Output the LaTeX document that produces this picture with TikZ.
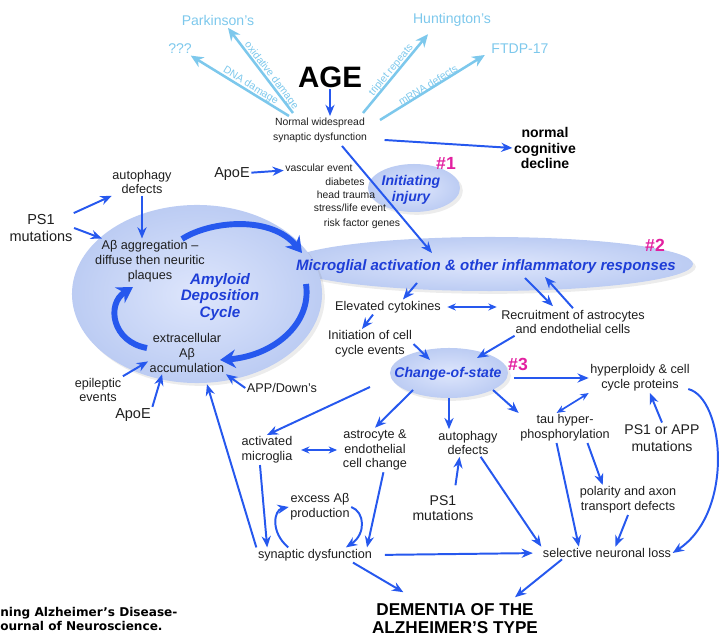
\documentclass[tikz,border=0pt]{standalone}
\usepackage{fontspec}
\setmainfont{Liberation Sans}
\newfontfamily\capfont{DejaVu Sans}
\usetikzlibrary{arrows.meta,shapes.geometric,shadows,calc}

\definecolor{arrowblue}{RGB}{38,88,238}
\definecolor{textblue}{RGB}{30,62,215}
\definecolor{skyblue}{RGB}{125,200,236}
\definecolor{hashpink}{RGB}{226,32,160}
\definecolor{blobin}{RGB}{222,230,252}
\definecolor{blobout}{RGB}{188,204,243}
\definecolor{inkgray}{RGB}{30,30,30}

\newcommand{\fs}[2]{\fontsize{#1}{#2}\selectfont}

\begin{document}
\begin{tikzpicture}[x=0.025cm,y=-0.025cm,
  lbl/.style={font=\fs{9}{10.6}, text=inkgray, align=center, inner sep=1pt},
  tiny/.style={font=\fs{7.4}{10.6}, text=inkgray, align=center, inner sep=1pt},
  big/.style={font=\fs{10.3}{11.5}, text=inkgray, align=center, inner sep=1pt},
  sky/.style={font=\fs{10}{12}, text=skyblue, inner sep=1pt},
  hash/.style={font=\bfseries\fs{12.5}{14}, text=hashpink, inner sep=0pt},
  stage/.style={font=\bfseries\itshape\fs{10.7}{12}, text=textblue, align=center, inner sep=1pt},
  blob/.style={ellipse, draw=none, inner sep=0pt, shading=radial, inner color=blobin, outer color=blobout,
    drop shadow={shadow xshift=2pt, shadow yshift=-2pt, opacity=0.12, fill=black!60}},
  arr/.style={draw=arrowblue, line width=1.4pt, -{Stealth[length=8pt,width=6.5pt]}},
  twoway/.style={draw=arrowblue, line width=1.2pt, {Stealth[length=6pt,width=5pt]}-{Stealth[length=6pt,width=5pt]}},
  fat/.style={draw=arrowblue, line width=4.2pt, -{Stealth[length=11pt,width=13pt]}},
  skyarr/.style={draw=skyblue, line width=1.8pt, -{Stealth[length=9pt,width=8pt]}},
  skylbl/.style={font=\fs{7.4}{9}, text=skyblue, sloped, above=-1pt, inner sep=0.5pt},
]
\useasboundingbox (0,0) rectangle (719,636);

% ellipses
\node[blob, minimum width=10.15cm, minimum height=1.35cm] (micro) at (490,264) {};
\node[blob, minimum width=6.25cm, minimum height=4.45cm] (amy) at (197,294) {};
\node[blob, minimum width=2.3cm, minimum height=1.2cm] (inj) at (414,188) {};
\node[blob, minimum width=2.95cm, minimum height=1.25cm] (cos) at (449,373) {};

% nodes
\node[sky] (park) at (218,20) {Parkinson's};
\node[sky] (qqq) at (180,49) {???};
\node[sky] (hunt) at (452,20) {Huntington's};
\node[sky] (ftdp) at (520,49) {FTDP-17};
\node[font=\bfseries\fs{21}{24}, text=black, inner sep=1pt] (age) at (330,77) {AGE};
\node[tiny] (normal) at (320,130) {Normal widespread\\synaptic dysfunction};
\node[lbl, font=\bfseries\fs{10}{11}, text=black] (ncd) at (545,148) {normal\\cognitive\\decline};

\node[big] (apoeA) at (232,174) {ApoE};
\node[tiny] (rf1) at (319,168) {vascular event};
\node[tiny] (rf2) at (345,182) {diabetes};
\node[tiny] (rf3) at (346,195) {head trauma};
\node[tiny] (rf4) at (350,208) {stress/life event};
\node[tiny] (rf5) at (362,224) {risk factor genes};
\node[stage, font=\bfseries\itshape\fs{10}{11.3}] (injtxt) at (411,190) {Initiating\\injury};
\node[hash] (h1) at (446,163) {\#1};

\node[stage] (microtxt) at (486,267) {Microglial activation \& other inflammatory responses};
\node[hash] (h2) at (655,245) {\#2};

\node[lbl] (autoA) at (142,182) {autophagy\\defects};
\node[big] (ps1A) at (41,228) {PS1\\mutations};
\node[lbl] (abagg) at (150,261) {Aβ aggregation –\\diffuse then neuritic\\plaques};
\node[stage, font=\bfseries\itshape\fs{10.8}{12}] (amytxt) at (220,297) {Amyloid\\Deposition\\Cycle};
\node[lbl] (extra) at (187,353) {extracellular\\Aβ\\accumulation};
\node[lbl] (epi) at (98,390) {epileptic\\events};
\node[big] (apoeB) at (133,415) {ApoE};
\node[lbl] (appd) at (282,388) {APP/Down's};

\node[lbl] (cyto) at (388,307) {Elevated cytokines};
\node[lbl] (recr) at (573,322) {Recruitment of astrocytes\\and endothelial cells};
\node[lbl] (initc) at (370,344) {Initiation of cell\\cycle events};
\node[stage, font=\bfseries\itshape\fs{10}{12}] (costxt) at (448,374) {Change-of-state};
\node[hash] (h3) at (518,364) {\#3};

\node[lbl] (hyper) at (640,378) {hyperploidy \& cell\\cycle proteins};
\node[lbl] (tau) at (565,428) {tau hyper-\\phosphorylation};
\node[big, font=\fs{10}{12.5}] (ps1app) at (662,438) {PS1 or APP\\mutations};
\node[lbl] (polar) at (628,500) {polarity and axon\\transport defects};
\node[lbl] (loss) at (607,553) {selective neuronal loss};

\node[lbl] (actm) at (267,450) {activated\\microglia};
\node[lbl] (astro) at (375,450) {astrocyte \&\\endothelial\\cell change};
\node[lbl] (autoB) at (468,443) {autophagy\\defects};
\node[big, font=\fs{10}{11}] (ps1B) at (443,508) {PS1\\mutations};
\node[lbl] (excess) at (320,507) {excess Aβ\\production};
\node[lbl] (synd) at (315,555) {synaptic dysfunction};

\node[font=\bfseries\fs{12.2}{12.8}, align=center, text=black, inner sep=1pt] (dem) at (455,619) {DEMENTIA OF THE\\ALZHEIMER’S TYPE};
\node[font=\capfont\bfseries\fs{8.6}{10}, align=left, anchor=west, inner sep=0pt] (cap) at (0,619) {ning Alzheimer’s Disease-\\ournal of Neuroscience.};

% arrows
\draw[arr, line width=1.2pt] (age.south) -- (age.south |- normal.north);
\draw[skyarr] ($(normal)+(-31,-14)$) -- node[skylbl, pos=0.42] {DNA damage} (qqq);
\draw[skyarr] ($(normal)+(-27,-17)$) -- node[skylbl, pos=0.4] {oxidative damage} ($(park.south)+(10,1)$);
\draw[skyarr] ($(normal)+(43,-17)$) -- node[skylbl, pos=0.5] {triplet repeats} ($(hunt.south)+(-24,6)$);
\draw[skyarr] ($(normal)+(60,-10)$) -- node[skylbl, pos=0.48] {mRNA defects} ($(ftdp.west)+(-5,6)$);
\draw[arr] ($(normal.east)+(16,10)$) -- (ncd.west);
\draw[arr] ($(normal.south)+(22,2)$) -- ($(micro)+(-58,-11)$);
\draw[arr] (apoeA) -- (rf1);

\draw[arr] (ps1A) -- (autoA);
\draw[arr] (ps1A.east) -- ([xshift=6pt]abagg.north west);
\draw[arr] (autoA.south) -- (autoA.south |- abagg.north);

% amyloid cycle
\draw[fat] ($(abagg)+(32,-22)$) .. controls (212,220) and (272,216) .. ($(micro)+(-188,-11)$);
\draw[fat] ($(micro)+(-184,20)$) .. controls (312,325) and (272,356) .. ($(extra)+(33,7)$);
\draw[fat] ($(extra)+(-40,-5)$) .. controls (112,342) and (106,304) .. ($(abagg)+(-17,26)$);

\draw[arr] (epi.north east) -- ([yshift=-6pt]extra.west);
\draw[arr] (apoeB.north east) -- ([xshift=10pt]extra.south west);
\draw[arr] (appd.west) -- (extra.south east);
\draw[arr] (synd.north west) -- ($(extra.south)+(20,10)$);

\draw[arr] ($(micro)+(-73,19)$) -- ($(cyto.north)+(15,0)$);
\draw[twoway, line width=0.9pt, shorten <=3.5pt, shorten >=2pt] (cyto.east) -- (cyto.east -| recr.west);
\draw[arr] ($(micro)+(35,14)$) -- ($(recr.north)+(-20,-2)$);
\draw[arr] (recr.north) -- ($(micro)+(55,13)$);
\draw[arr] ($(cyto.south)+(-15,0)$) -- ($(initc.north)+(-8,0)$);
\draw[arr] (initc.east) -- ($(cos)+(-19,-13)$);
\draw[arr] ($(recr.south west)+(15,0)$) -- ($(cos)+(28,-15)$);

\draw[arr, shorten <=4pt] (hyper.west -| cos.east) -- (hyper.west);
\draw[arr] ($(cos)+(44,17)$) -- (tau.north west);
\draw[twoway] ([xshift=-6pt]tau.north) -- (hyper.south west);
\draw[arr] (ps1app.north) -- ([xshift=7pt]hyper.south);
\draw[arr] ($(hyper.south east)+(-3,-4)$) .. controls (724,398) and (735,512) .. (loss.east);
\draw[arr] ([xshift=-6pt]tau.south) -- ([xshift=-20pt]loss.north);
\draw[arr] ([xshift=16pt]tau.south) -- ([xshift=-18pt]polar.north);
\draw[arr] (polar.south) -- ([xshift=6pt]loss.north);
\draw[arr] ([xshift=9pt]autoB.south) -- (loss.north west);
\draw[arr] (cos.south) -- (cos.south |- autoB.north);
\draw[arr, shorten <=6pt] ([xshift=8pt]ps1B.north) -- ([xshift=-6pt]autoB.south);

\draw[arr] ($(cos)+(-79,14)$) -- (actm.north);
\draw[arr] ($(cos)+(-36,17)$) -- (astro.north);
\draw[twoway, shorten <=5pt, shorten >=3pt] (actm.east) -- (astro.west);
\draw[arr] ([xshift=-5pt]actm.south) -- ([xshift=-34pt]synd.north);
\draw[arr] ([xshift=6pt]astro.south) -- ([xshift=37pt]synd.north);
\draw[arr] ([xshift=-19pt]synd.north) .. controls (270,532) and (274,510) .. (excess.west);
\draw[arr] (excess.east) .. controls (365,512) and (366,534) .. ([xshift=22pt]synd.north);

\draw[arr, shorten <=8pt, shorten >=6pt] (synd.east) -- (loss.west);
\draw[arr] ([xshift=27pt]synd.south) -- ($(dem.north west)+(33,-10)$);
\draw[arr] ([xshift=-32pt]loss.south) -- ($(dem.north)+(60,-5)$);
\end{tikzpicture}
\end{document}
